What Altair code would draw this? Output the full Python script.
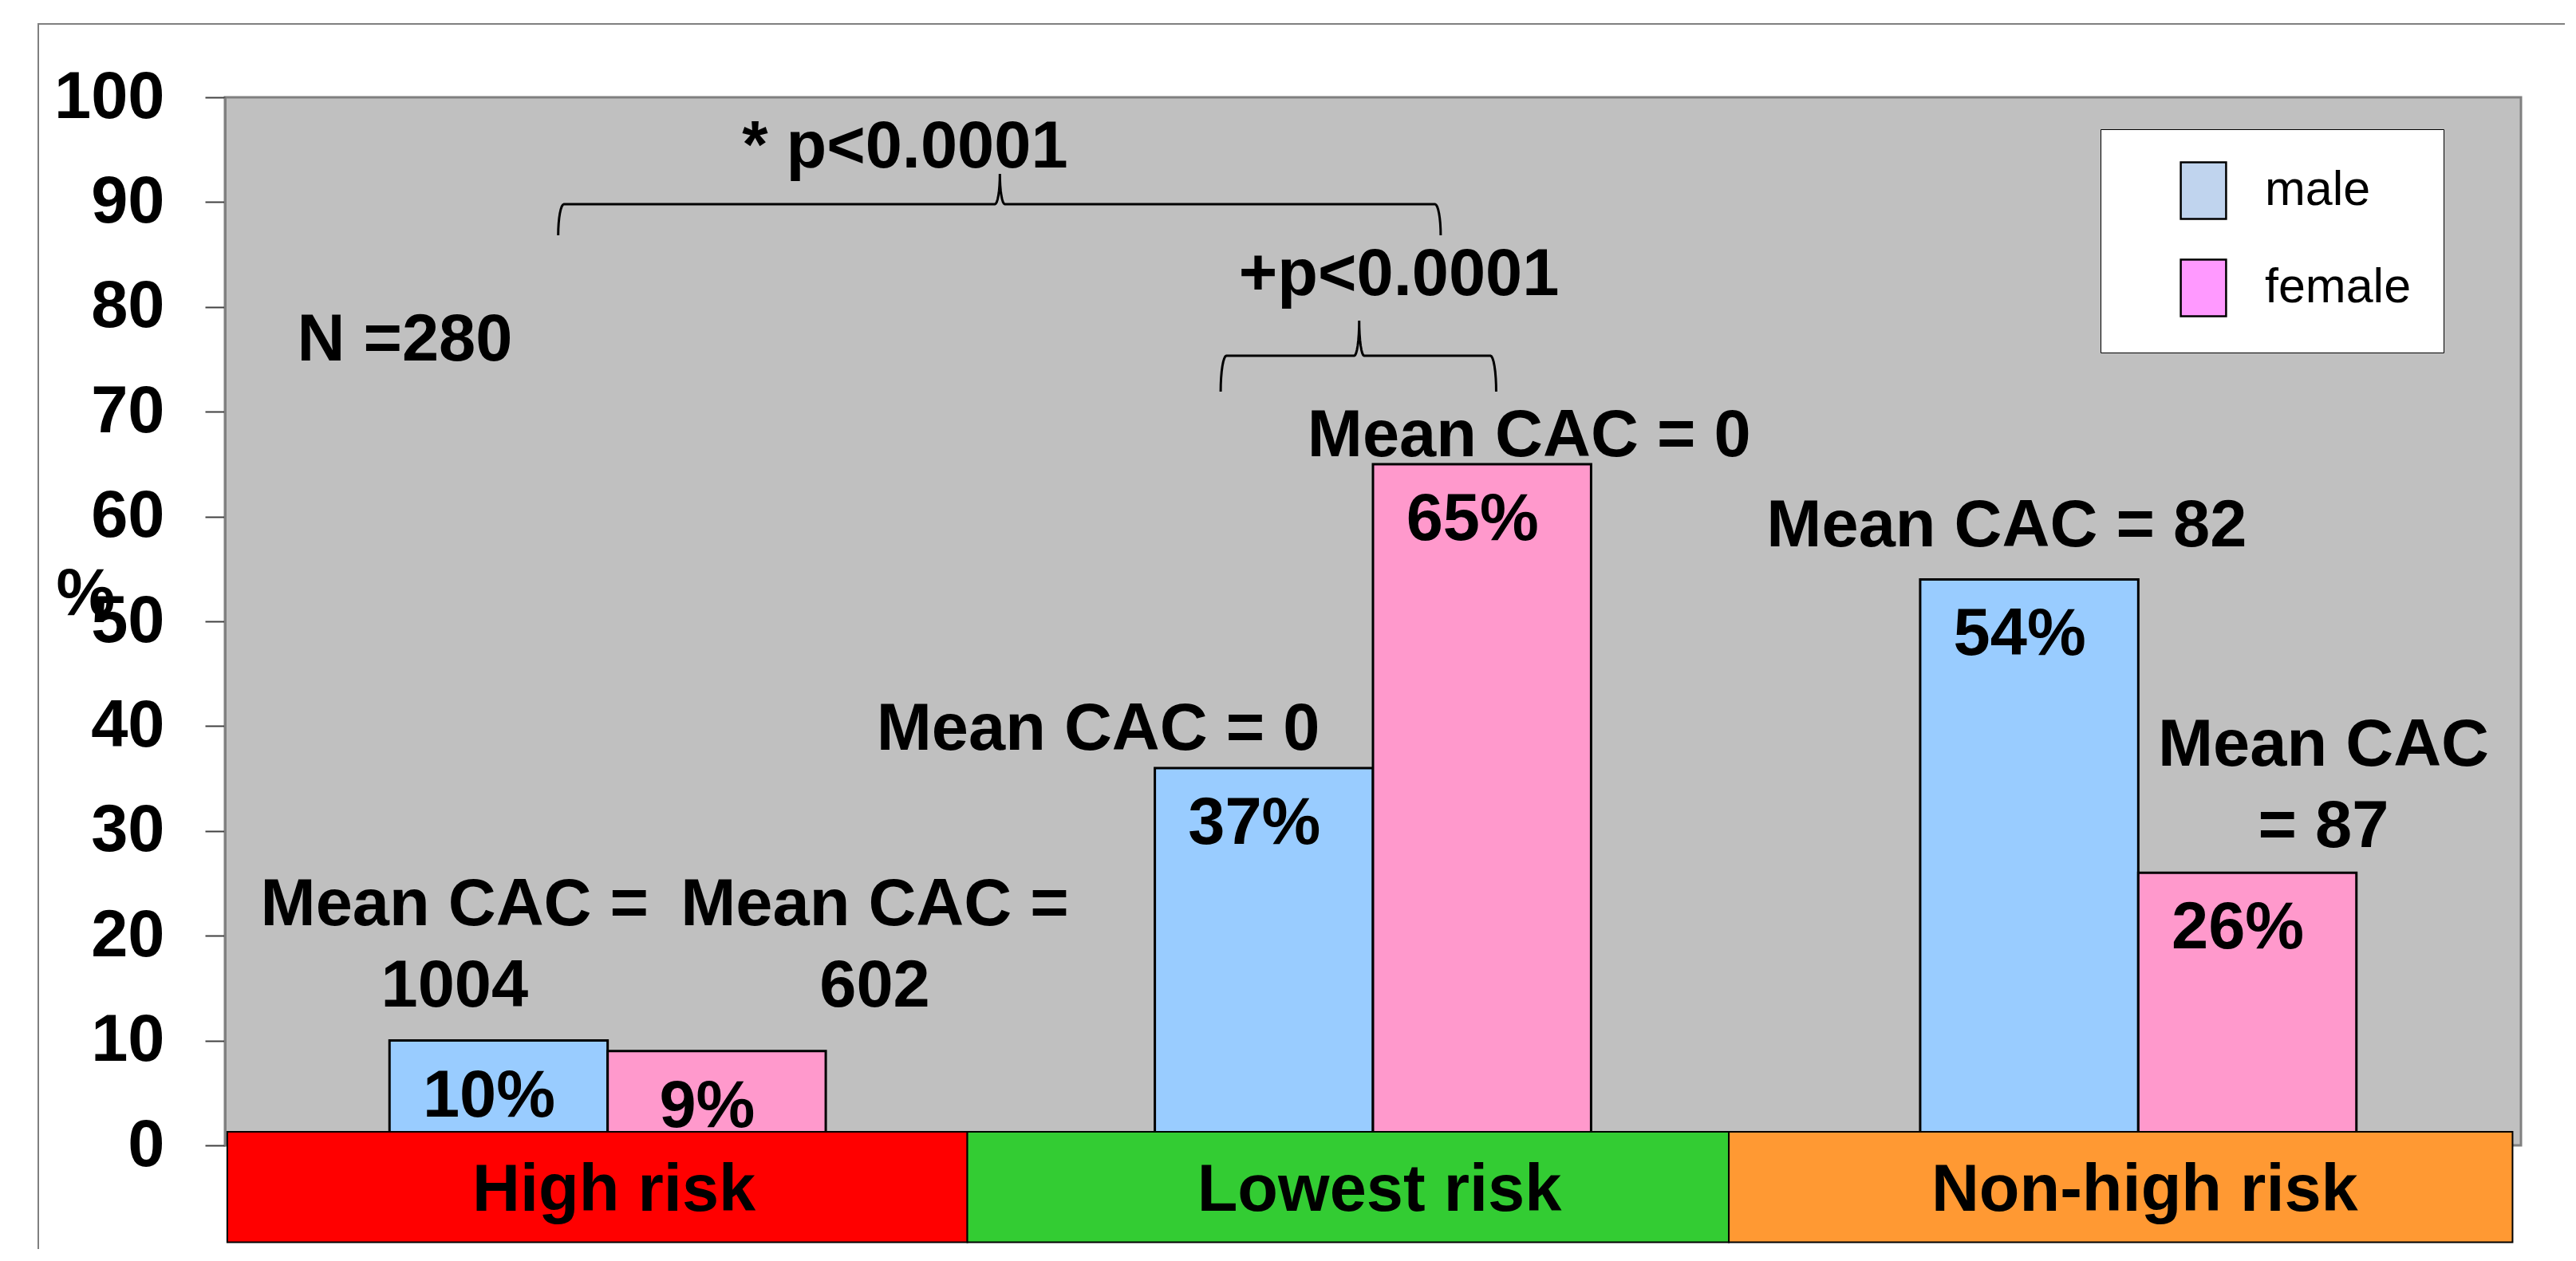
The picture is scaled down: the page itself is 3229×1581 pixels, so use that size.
import altair as alt
import pandas as pd
import numpy as np

# ---------------- data ----------------
risk_groups = ["High risk", "Lowest risk", "Non-high risk"]
sexes = ["male", "female"]
male_pct = [10, 36, 54]
female_pct = [9, 65, 26]
male_labels = ["10%", "37%", "54%"]
female_labels = ["9%", "65%", "26%"]
male_cac = ["Mean CAC =\n1004", "Mean CAC = 0", "Mean CAC = 82"]
female_cac = ["Mean CAC =\n602", "Mean CAC = 0", "Mean CAC\n= 87"]
# annotation anchors (x in group units 0..3, y in % units)
male_cac_x = [0.300, 1.141, 2.328]
male_cac_y = [21.0, 37.75, 57.15]
female_cac_x = [0.849, 1.704, 2.742]
female_cac_y = [21.0, 65.75, 36.2]
strip_left = [0.003, 0.970, 1.965]
strip_right = [0.970, 1.965, 2.989]
y_ticks = list(range(0, 101, 10))
notes = ["N =280", "* p<0.0001", "+p<0.0001"]
notes_x = [0.235, 0.8885, 1.534]
notes_y = [74.9, 93.3, 81.1]
brace_left = [0.4354, 1.301]
brace_tip = [1.0125, 1.482]
brace_right = [1.5885, 1.661]
brace_bottom = [86.83, 71.92]
brace_line = [89.80, 75.34]
brace_top = [92.69, 78.69]

# ---------------- styles ----------------
bar_colors = ["#99CCFF", "#FF99CC"]
legend_colors = ["#C0D4EE", "#FF99FF"]
strip_colors = ["#FF0000", "#33CC33", "#FF9933"]
FONT = "Liberation Sans, Arial, sans-serif"
FS = 83
BAR_W = 0.285
STRIP_TOP = 1.3
STRIP_BOTTOM = -9.25
END_R = 0.0075
TIP_R = 0.0065

W, H = 2878, 1314

# ---------------- tables ----------------
rows = []
for i, g in enumerate(risk_groups):
    rows.append(dict(risk=g, sex="male", value=male_pct[i], label=male_labels[i],
                     x0=i + 0.5 - BAR_W, x1=i + 0.5))
    rows.append(dict(risk=g, sex="female", value=female_pct[i], label=female_labels[i],
                     x0=i + 0.5, x1=i + 0.5 + BAR_W))
bars = pd.DataFrame(rows)
bars["xc"] = (bars["x0"] + bars["x1"]) / 2
bars["zero"] = 0

strips = pd.DataFrame(dict(risk=risk_groups, left=strip_left, right=strip_right,
                           center=[i + 0.5 for i in range(len(risk_groups))]))
strips["top"] = STRIP_TOP
strips["bottom"] = STRIP_BOTTOM
strips["mid"] = (STRIP_TOP + STRIP_BOTTOM) / 2

ann = pd.DataFrame(dict(text=male_cac + female_cac + notes,
                        x=male_cac_x + female_cac_x + notes_x,
                        y=male_cac_y + female_cac_y + notes_y))

pts = []
t = np.linspace(0, np.pi / 2, 9)
for b in range(len(brace_left)):
    xl, xt, xr = brace_left[b], brace_tip[b], brace_right[b]
    yb, yh, yt = brace_bottom[b], brace_line[b], brace_top[b]
    seq = []
    seq += [(xl + END_R * (1 - np.cos(a)), yb + (yh - yb) * np.sin(a)) for a in t]
    seq += [(xt - TIP_R + TIP_R * np.sin(a), yt + (yh - yt) * np.cos(a)) for a in t]
    seq += [(xt + TIP_R - TIP_R * np.sin(a), yt + (yh - yt) * np.cos(a)) for a in t[::-1]]
    seq += [(xr - END_R * (1 - np.cos(a)), yb + (yh - yb) * np.sin(a)) for a in t[::-1]]
    for k, (px, py) in enumerate(seq):
        pts.append(dict(brace=b, order=k, x=px, y=py))
braces = pd.DataFrame(pts)

legend_df = pd.DataFrame(dict(sex=sexes))
frame_df = pd.DataFrame(dict(k=[0]))

# ---------------- scales / axes ----------------
xscale = alt.Scale(domain=[0, 3], nice=False, zero=False)
yscale = alt.Scale(domain=[0, 100], nice=False, zero=False)
y_axis = alt.Axis(values=y_ticks, title="%", titleAngle=0, titleX=-175, titleY=648,
                  titleAlign="center", titleBaseline="alphabetic", titleFont=FONT,
                  titleFontSize=FS, titleFontWeight="bold", titleColor="black",
                  labelFont=FONT, labelFontSize=FS, labelFontWeight="bold",
                  labelColor="black", labelPadding=51, tickSize=25, tickColor="#404040",
                  tickWidth=2, domainColor="#808080", domainWidth=3, grid=False,
                  labelOverlap=False)


def X(f):
    return alt.X(f"{f}:Q", scale=xscale, axis=None)


def Y(f):
    return alt.Y(f"{f}:Q", scale=yscale, axis=y_axis)


frame = alt.Chart(frame_df).mark_rect(fillOpacity=0, stroke="#808080", strokeWidth=2).encode(
    x=alt.value(-234), x2=alt.value(2935), y=alt.value(-92), y2=alt.value(1700))

bar_layer = alt.Chart(bars).mark_rect(stroke="black", strokeWidth=3).encode(
    x=X("x0"), x2="x1", y=Y("value"), y2="zero",
    color=alt.Color("sex:N", scale=alt.Scale(domain=sexes, range=bar_colors), legend=None))

strip_layer = alt.Chart(strips).mark_rect(stroke="black", strokeWidth=2).encode(
    x=X("left"), x2="right", y=Y("top"), y2="bottom",
    fill=alt.Fill("risk:N", scale=alt.Scale(domain=risk_groups, range=strip_colors), legend=None))

strip_text = alt.Chart(strips).mark_text(font=FONT, fontSize=FS, fontWeight="bold",
                                         color="black", align="center", baseline="alphabetic",
                                         dy=30, dx=8).encode(
    x=X("center"), y=Y("mid"), text="risk:N")

pct_text = alt.Chart(bars).mark_text(font=FONT, fontSize=FS, fontWeight="bold",
                                     color="black", align="center", baseline="alphabetic",
                                     dy=95, dx=-12).encode(
    x=X("xc"), y=Y("value"), text="label:N")

ann_text = alt.Chart(ann).mark_text(font=FONT, fontSize=FS, fontWeight="bold",
                                    color="black", align="center", baseline="alphabetic",
                                    lineBreak="\n", lineHeight=102).encode(
    x=X("x"), y=Y("y"), text="text:N")

brace_layer = alt.Chart(braces).mark_line(color="black", strokeWidth=3).encode(
    x=X("x"), y=Y("y"), detail="brace:N", order="order:Q")

legend_layer = alt.Chart(legend_df).mark_rect(stroke="black", strokeWidth=2.5).encode(
    x=alt.value(-600), x2=alt.value(-600), y=alt.value(-600), y2=alt.value(-600),
    color=alt.Color("sex:N", scale=alt.Scale(domain=sexes, range=legend_colors),
                    legend=alt.Legend(title=None, orient="none", legendX=2351, legendY=40,
                                      fillColor="white", strokeColor="black", padding=40,
                                      symbolType="M-0.8,-1H0.8V1H-0.8Z", symbolSize=5041,
                                      symbolStrokeColor="black", symbolStrokeWidth=2.5,
                                      labelFont=FONT, labelFontSize=61, labelColor="black",
                                      labelOffset=40, labelLimit=400, rowPadding=40,
                                      symbolOffset=52)))

chart = alt.layer(frame, bar_layer, strip_layer, strip_text, pct_text, ann_text,
                  brace_layer, legend_layer).resolve_scale(
    color="independent", fill="independent").properties(
    width=W, height=H, autosize=alt.AutoSizeParams(type="none"),
    padding={"left": 274, "top": 114, "right": 55, "bottom": 130},
    background="white").configure_view(fill="#C0C0C0", stroke="#808080", strokeWidth=3)

chart.save("out.html", embed_options={"renderer": "svg", "actions": False})
